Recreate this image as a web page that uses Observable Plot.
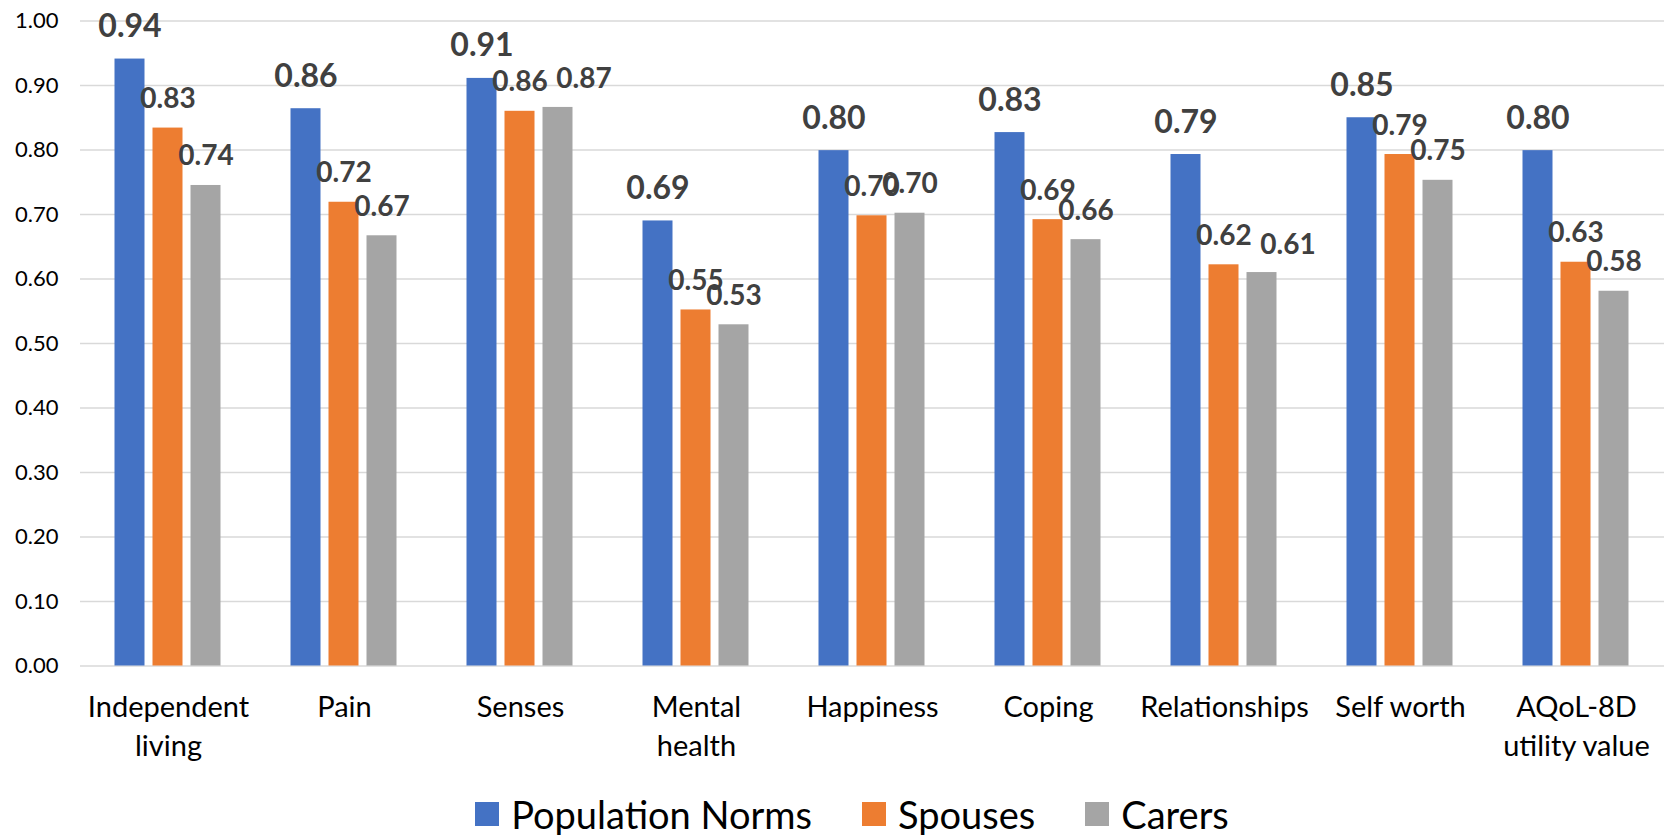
<!DOCTYPE html>
<html>
<head>
<meta charset="utf-8">
<script src="https://cdn.jsdelivr.net/npm/d3@7"></script>
<script src="https://cdn.jsdelivr.net/npm/@observablehq/plot@0.6"></script>
<style>
  html, body { margin: 0; padding: 0; background: #fff; }
  body { width: 1667px; height: 835px; position: relative; overflow: hidden; font-family: Lato, "Open Sans", sans-serif; }
  #chart { position: absolute; left: 0; top: 0; }
  #legend { position: absolute; left: 0; top: 793px; height: 42px; line-height: 42px; width: 1704px; display: flex; justify-content: center; align-items: center; font-family: Lato, sans-serif; font-size: 38px; color: #000; }
  .item { display: flex; align-items: center; margin: 0 25px; }
  .sw { width: 24px; height: 24px; margin-right: 12px; }
</style>
</head>
<body>
<div id="chart"></div>
<div id="legend"></div>
<script>
const categories = ["Independent living", "Pain", "Senses", "Mental health", "Happiness", "Coping", "Relationships", "Self worth", "AQoL-8D utility value"];
const categoryLabels = ["Independent\nliving", "Pain", "Senses", "Mental\nhealth", "Happiness", "Coping", "Relationships", "Self worth", "AQoL-8D\nutility value"];
const series = ["Population Norms", "Spouses", "Carers"];
const colors = ["#4472C4", "#ED7D31", "#A5A5A5"];
const populationNorms = [0.941, 0.864, 0.911, 0.690, 0.799, 0.827, 0.793, 0.850, 0.799];
const spouses = [0.834, 0.719, 0.860, 0.552, 0.698, 0.692, 0.622, 0.793, 0.626];
const carers = [0.745, 0.667, 0.866, 0.529, 0.702, 0.661, 0.610, 0.753, 0.581];
const yTicks = [0, 0.1, 0.2, 0.3, 0.4, 0.5, 0.6, 0.7, 0.8, 0.9, 1.0];
// carer labels that were nudged sideways in the original
const nudgedCarerLabels = ["Senses", "Relationships"];

const valuesBySeries = [populationNorms, spouses, carers];
const rows = [];
categories.forEach((c, i) => {
  series.forEach((s, j) => rows.push({category: c, series: s, value: valuesBySeries[j][i]}));
});
const labelOf = new Map(categories.map((c, i) => [c, categoryLabels[i]]));
const isNudged = d => d.series === series[2] && nudgedCarerLabels.includes(d.category);
const fmt = d => d.value.toFixed(2);

const chart = Plot.plot({
  width: 1667,
  height: 790,
  marginTop: 20.5,
  marginBottom: 124.5,
  marginLeft: 79.5,
  marginRight: 2,
  style: {fontFamily: "Lato, sans-serif", background: "#fff", overflow: "visible"},
  fx: {domain: categories, padding: 0, axis: null, label: null},
  x: {domain: series, paddingInner: 0.205, paddingOuter: 0.859, axis: null, label: null},
  y: {domain: [0, 1], label: null},
  color: {domain: series, range: colors},
  marks: [
    Plot.gridY(yTicks, {stroke: "#d9d9d9", strokeOpacity: 1, strokeWidth: 1.6}),
    Plot.axisY(yTicks, {tickSize: 0, tickPadding: 22, fontSize: 22, tickFormat: d3.format(".2f"), fill: "#000", label: null}),
    Plot.barY(rows, {fx: "category", x: "series", y: "value", fill: "series"}),
    Plot.text(rows.filter(d => d.series === series[0]), {
      fx: "category", x: "series", y: "value", text: fmt,
      lineAnchor: "bottom", dy: -22, fontSize: 32, fontWeight: "bold", fill: "#404040"
    }),
    Plot.text(rows.filter(d => d.series !== series[0] && !isNudged(d)), {
      fx: "category", x: "series", y: "value", text: fmt,
      lineAnchor: "bottom", dy: -20, fontSize: 28, fontWeight: "bold", fill: "#404040"
    }),
    Plot.text(rows.filter(isNudged), {
      fx: "category", x: "series", y: "value", text: fmt,
      lineAnchor: "bottom", dx: 26, dy: -19, fontSize: 28, fontWeight: "bold", fill: "#404040"
    }),
    Plot.text(categories, {
      fx: d => d, text: d => labelOf.get(d), frameAnchor: "bottom", lineAnchor: "top",
      dy: 24, fontSize: 29, lineHeight: 1.33, fill: "#000"
    })
  ]
});
document.getElementById("chart").appendChild(chart);

const legend = document.getElementById("legend");
series.forEach((s, i) => {
  const item = document.createElement("div");
  item.className = "item";
  const sw = document.createElement("span");
  sw.className = "sw";
  sw.style.background = colors[i];
  const t = document.createElement("span");
  t.textContent = s;
  item.appendChild(sw);
  item.appendChild(t);
  legend.appendChild(item);
});
</script>
</body>
</html>
